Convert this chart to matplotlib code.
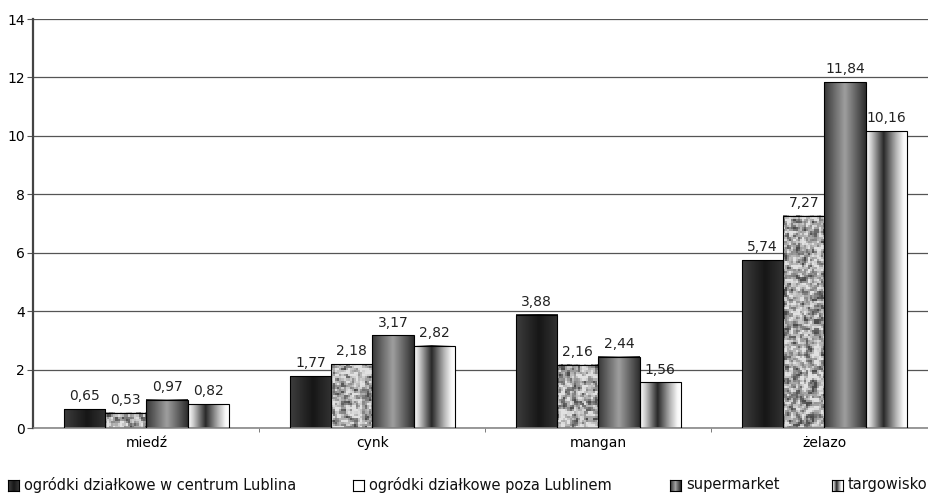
import numpy as np
import matplotlib
matplotlib.use('Agg')
import matplotlib.pyplot as plt
from matplotlib.patches import Rectangle

plt.rcParams['font.family'] = ['DejaVu Sans']

categories = ['miedź', 'cynk', 'mangan', 'żelazo']
series_names = ['ogródki działkowe w centrum Lublina',
                'ogródki działkowe poza Lublinem',
                'supermarket',
                'targowisko']
centrum = [0.65, 1.77, 3.88, 5.74]
poza = [0.53, 2.18, 2.16, 7.27]
supermarket = [0.97, 3.17, 2.44, 11.84]
targowisko = [0.82, 2.82, 1.56, 10.16]
values = [centrum, poza, supermarket, targowisko]


def frac(a):
    return a - np.floor(a)


def speckle(rows, cols, seed):
    # deterministic speckle texture (shader-style hash), only for the fill look
    yy, xx = np.mgrid[0:rows + 1, 0:cols + 1].astype(float)
    h = frac(np.sin(xx * 127.1 + yy * 311.7 + seed * 74.7) * 43758.5453)
    h = frac(np.sin(h * 269.5 + xx * 183.3 + yy * 17.1) * 24634.6345)
    h = (h[:-1, :-1] + h[1:, :-1] + h[:-1, 1:] + h[1:, 1:]) / 4
    return np.clip(0.66 + 1.3 * (h - 0.5), 0.3, 0.88)


def gradient(kind, n=60):
    t = np.linspace(0, 1, n)
    if kind == 0:
        prof = np.interp(t, [0, 0.55, 1], [0.24, 0.09, 0.2])
    elif kind == 2:
        prof = np.interp(t, [0, 0.5, 1], [0.22, 0.62, 0.18])
    else:
        prof = np.interp(t, [0, 0.12, 0.42, 0.72, 0.9, 1], [1.0, 0.8, 0.16, 0.7, 0.97, 1.0])
    return prof[None, :]


fig = plt.figure(figsize=(9.29, 4.93), dpi=100)
ax = fig.add_axes([33.5 / 929, 1 - 428 / 493, 904 / 929, 409 / 493])

x = np.arange(len(categories))
w = 0.1825
px_per_unit = 409 / 14
for i, vals in enumerate(values):
    for j, v in enumerate(vals):
        x0 = x[j] + (i - 2) * w
        if i == 1:
            img = speckle(max(2, int(v * px_per_unit / 2)), 20, j + 1)
            interp = 'nearest'
        else:
            img = gradient(i)
            interp = 'bilinear'
        ax.imshow(img, cmap='gray', vmin=0, vmax=1, aspect='auto',
                  extent=[x0, x0 + w, 0, v], interpolation=interp, zorder=2)
        ax.add_patch(Rectangle((x0, 0), w, v, fill=False, edgecolor='black', lw=0.8, zorder=3))
        ax.text(x0 + w / 2, v + 0.2, f'{v:.2f}'.replace('.', ','), ha='center', va='bottom',
                fontsize=10, color='#222222')

ax.set_xlim(-0.5, 3.5)
ax.set_ylim(0, 14)
ax.set_yticks(np.arange(0, 15, 2))
ax.set_xticks(x)
ax.set_xticklabels(categories, fontsize=10)
ax.set_xticks([0.5, 1.5, 2.5], minor=True)
ax.tick_params(axis='x', which='major', length=0, pad=6)
ax.tick_params(axis='x', which='minor', length=3, color='#666666')
ax.tick_params(axis='y', length=4, color='#555555', labelsize=10, pad=2)
ax.grid(axis='y', color='#555555', lw=0.9, zorder=1)
ax.set_axisbelow(True)
for s in ['top', 'right']:
    ax.spines[s].set_visible(False)
ax.spines['left'].set_color('#444444')
ax.spines['left'].set_linewidth(1.6)
ax.spines['bottom'].set_color('#888888')
ax.spines['bottom'].set_linewidth(1.2)

# legend at bottom
leg_x = [8, 353, 670, 832]
for i, name in enumerate(series_names):
    lx = leg_x[i] / 929
    sq = fig.add_axes([lx, 1 - 491 / 493, 11 / 929, 11 / 493])
    if i == 1:
        sq.imshow(np.ones((2, 2)), cmap='gray', vmin=0, vmax=1, aspect='auto')
    else:
        sq.imshow(gradient(i, n=11), cmap='gray', vmin=0, vmax=1, aspect='auto')
    sq.set_xticks([])
    sq.set_yticks([])
    for s in sq.spines.values():
        s.set_color('black')
        s.set_linewidth(0.8)
    fig.text((leg_x[i] + 16) / 929, 1 - 485 / 493, name, fontsize=10.5, va='center', ha='left',
             color='#111111')

fig.savefig('out.png', dpi=100)
